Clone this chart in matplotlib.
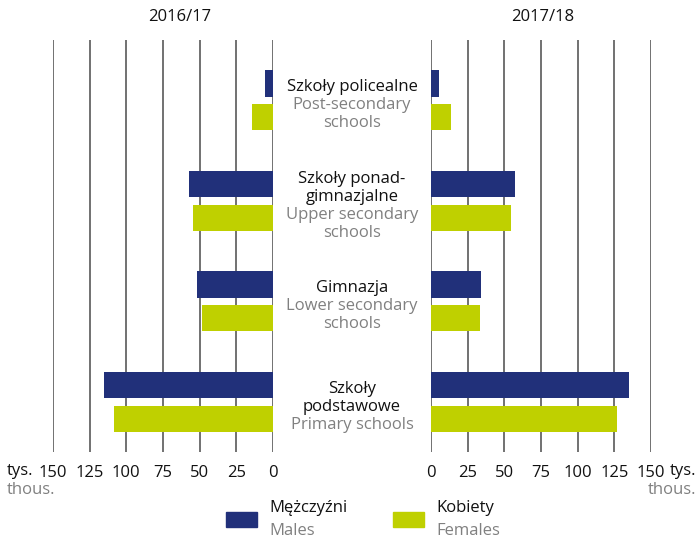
import numpy as np
import matplotlib
matplotlib.use('Agg')
from matplotlib import pyplot as plt
from matplotlib.patches import Rectangle

plt.rcParams['font.family'] = ['Open Sans', 'DejaVu Sans']

## dane (tys.)
kategorie_pl = [['Szkoły policealne'], ['Szkoły ponad-', 'gimnazjalne'], ['Gimnazja'], ['Szkoły', 'podstawowe']]
kategorie_en = [['Post-secondary', 'schools'], ['Upper secondary', 'schools'], ['Lower secondary', 'schools'], ['Primary schools']]
lata = ['2016/17', '2017/18']
mezczyzni_1617 = [5.2, 57.0, 51.8, 115.4]
kobiety_1617 = [14.0, 54.7, 48.6, 108.6]
mezczyzni_1718 = [5.7, 57.0, 34.3, 134.8]
kobiety_1718 = [13.4, 54.3, 33.2, 126.6]
ticki = [0, 25, 50, 75, 100, 125, 150]

GRANAT = '#21307a'
LIMONKA = '#bfd000'
SZARY = '#808080'
CZARNY = '#111111'
FS = 12
W, H = 698, 538

fig = plt.figure(figsize=(W / 100, H / 100), dpi=100)

def box(x0, x1, y0, y1):
    return [x0 / W, 1 - y1 / H, (x1 - x0) / W, (y1 - y0) / H]

def ftext(x, y, s, **kw):
    fig.text(x / W, 1 - y / H, s, **kw)

ax_l = fig.add_axes(box(53, 273, 40, 452))
ax_r = fig.add_axes(box(431, 651, 40, 452))
ax_c = fig.add_axes(box(273, 431, 40, 452))

y = np.arange(len(kategorie_pl))
off = 0.169
h = 0.263
ylim = (3.5, -0.6)

for ax, m, k in [(ax_l, mezczyzni_1617, kobiety_1617), (ax_r, mezczyzni_1718, kobiety_1718)]:
    ax.barh(y - off, m, height=h, color=GRANAT, zorder=3)
    ax.barh(y + off, k, height=h, color=LIMONKA, zorder=3)
    ax.set_xlim(0, 150)
    ax.set_ylim(*ylim)
    ax.set_xticks(ticks=ticki, labels=[str(t) for t in ticki])
    ax.set_yticks([])
    ax.grid(axis='x', color='#4a4a4a', lw=1.1, zorder=0)
    for s in ax.spines.values():
        s.set_visible(False)
    ax.tick_params(axis='x', length=0, pad=9.5, labelsize=FS, colors=CZARNY)
ax_l.invert_xaxis()

ax_c.set_xlim(0, 1)
ax_c.set_ylim(*ylim)
ax_c.axis('off')
lh = 0.179
for i in range(len(kategorie_pl)):
    linie = [(t, CZARNY) for t in kategorie_pl[i]] + [(t, SZARY) for t in kategorie_en[i]]
    y0 = i + 0.05 - (len(linie) - 1) * lh / 2
    for j, (t, c) in enumerate(linie):
        ax_c.text(0.5, y0 + j * lh, t, ha='center', va='center', fontsize=FS, color=c)

ftext(180, 17, lata[0], ha='center', va='center', fontsize=FS, color=CZARNY)
ftext(543, 17, lata[1], ha='center', va='center', fontsize=FS, color=CZARNY)

ftext(7, 471, 'tys.', ha='left', va='center', fontsize=FS, color=CZARNY)
ftext(7, 490, 'thous.', ha='left', va='center', fontsize=FS, color=SZARY)
ftext(696, 471, 'tys.', ha='right', va='center', fontsize=FS, color=CZARNY)
ftext(696, 490, 'thous.', ha='right', va='center', fontsize=FS, color=SZARY)

## legenda
for x, c, pl, en in [(226, GRANAT, 'Mężczyźni', 'Males'), (393, LIMONKA, 'Kobiety', 'Females')]:
    fig.patches.append(Rectangle((x / W, 1 - 527 / H), 31 / W, 15 / H, transform=fig.transFigure,
                                 color=c))
    ftext(x + 43, 508, pl, ha='left', va='center', fontsize=FS, color=CZARNY)
    ftext(x + 43, 531, en, ha='left', va='center', fontsize=FS, color=SZARY)

plt.savefig('out.png', dpi=100)
